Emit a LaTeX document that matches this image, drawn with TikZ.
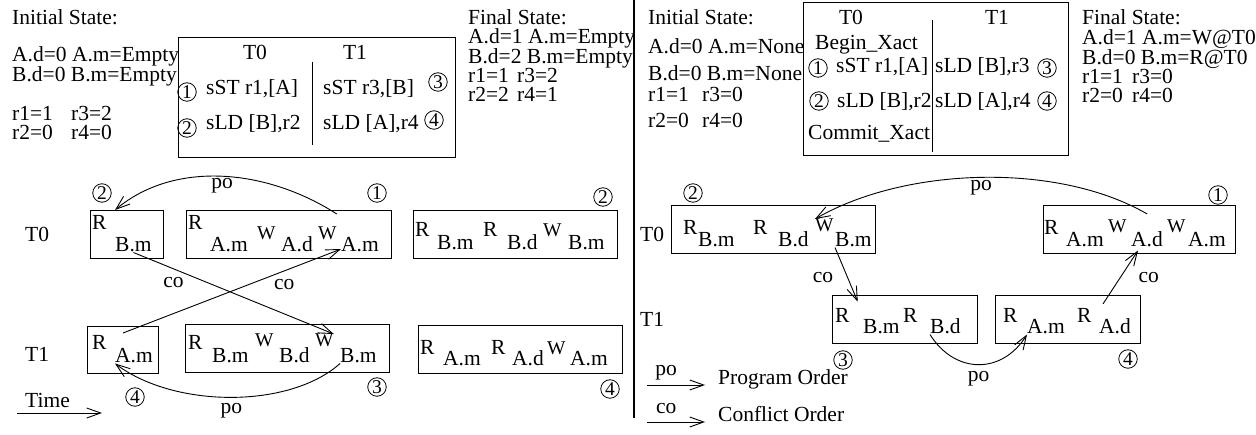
\documentclass[tikz,border=0pt]{standalone}
\usepackage{fontspec}
\setmainfont{Liberation Serif}
\usetikzlibrary{arrows.meta,positioning}

\begin{document}
\begin{tikzpicture}[x = 1pt, y = -1pt, font = \fontsize{21.5}{25}\selectfont]
  \useasboundingbox (0,0) rectangle (1256,435);
  \tikzset{TextStyle/.style  = {inner sep      = 0pt,
                                anchor         = base west}}
  \tikzset{SupStyle/.style   = {TextStyle,
                                font           = \fontsize{19.5}{22}\selectfont}}
  \tikzset{BoxStyle/.style   = {draw,
                                line width     = 1pt,
                                inner sep      = 0pt,
                                anchor         = north west}}
  \tikzset{NumStyle/.style   = {draw,
                                circle,
                                line width     = 0.8pt,
                                inner sep      = 0pt,
                                minimum size   = 18.5pt,
                                font           = \fontsize{19.5}{21}\selectfont}}
  \tikzset{EdgeStyle/.style  = {line width     = 0.9pt,
                                -{Straight Barb[length=14pt,width=10pt]}}}
  \tikzset{LabelStyle/.style = {inner sep      = 2pt}}

  % left half: states and code
  \node[TextStyle] (Init0)  at (12,25)  {Initial State:};
  \node[TextStyle] (InitA0) at (12,62)  {A.d=0 A.m=Empty};
  \node[TextStyle] (InitB0) at (12,82)  {B.d=0 B.m=Empty};
  \node[TextStyle] (InitR0) at (12,121) {\makebox[59pt][l]{r1=1}r3=2};
  \node[TextStyle] (InitS0) at (12,140) {\makebox[59pt][l]{r2=0}r4=0};

  \node[BoxStyle, minimum width = 277pt, minimum height = 120pt] (Code0) at (178,37) {};
  \draw[line width = 1pt] (312,62) -- (312,145);
  \node[TextStyle, anchor = base] (CodeT0) at (255,60)  {T0};
  \node[TextStyle, anchor = base] (CodeT1) at (355,60)  {T1};
  \node[NumStyle]  (NumA1) at (187,92)  {1};
  \node[TextStyle] (InsA1) at (206,95)  {sST r1,[A]};
  \node[NumStyle]  (NumA2) at (187,128) {2};
  \node[TextStyle] (InsA2) at (206,130) {sLD [B],r2};
  \node[TextStyle] (InsA3) at (323,95)  {sST r3,[B]};
  \node[NumStyle]  (NumA3) at (438,82)  {3};
  \node[TextStyle] (InsA4) at (323,130) {sLD [A],r4};
  \node[NumStyle]  (NumA4) at (434,120) {4};

  \node[TextStyle] (Fin0)  at (468,25)  {Final State:};
  \node[TextStyle] (FinA0) at (468,44)  {A.d=1 A.m=Empty};
  \node[TextStyle] (FinB0) at (468,64)  {B.d=2 B.m=Empty};
  \node[TextStyle] (FinR0) at (468,83)  {\makebox[49pt][l]{r1=1}r3=2};
  \node[TextStyle] (FinS0) at (468,102) {\makebox[49pt][l]{r2=2}r4=1};

  % left half: time line
  \node[TextStyle] (RowT0) at (25,242) {T0};
  \node[TextStyle] (RowT1) at (25,362) {T1};

  \node[BoxStyle, minimum width = 73pt, minimum height = 48pt] (A0) at (90,210) {};
  \node[TextStyle] (A0a) at (92,230)  {R};
  \node[TextStyle] (A0b) at (115,252) {B.m};
  \node[BoxStyle, minimum width = 205pt, minimum height = 48pt] (B0) at (186,210) {};
  \node[TextStyle] (B0a) at (188,230) {R};
  \node[TextStyle] (B0b) at (210,252) {A.m};
  \node[SupStyle]  (B0c) at (257,240) {W};
  \node[TextStyle] (B0d) at (281,252) {A.d};
  \node[SupStyle]  (B0e) at (318,240) {W};
  \node[TextStyle] (B0f) at (341,252) {A.m};
  \node[BoxStyle, minimum width = 204pt, minimum height = 48pt] (C0) at (413,210) {};
  \node[TextStyle] (C0a) at (415,237) {R};
  \node[TextStyle] (C0b) at (437,250) {B.m};
  \node[TextStyle] (C0c) at (483,237) {R};
  \node[TextStyle] (C0d) at (507,250) {B.d};
  \node[SupStyle]  (C0e) at (543,237) {W};
  \node[TextStyle] (C0f) at (568,250) {B.m};
  \node[NumStyle] (NumB2) at (102,193) {2};
  \node[NumStyle] (NumB1) at (377,193) {1};
  \node[NumStyle] (NumC2) at (603,197) {2};

  \node[BoxStyle, minimum width = 71pt, minimum height = 47pt] (A1) at (87,326) {};
  \node[TextStyle] (A1a) at (92,350)  {R};
  \node[TextStyle] (A1b) at (115,363) {A.m};
  \node[BoxStyle, minimum width = 204pt, minimum height = 48pt] (B1) at (185,324) {};
  \node[TextStyle] (B1a) at (188,350) {R};
  \node[TextStyle] (B1b) at (212,363) {B.m};
  \node[SupStyle]  (B1c) at (255,347) {W};
  \node[TextStyle] (B1d) at (279,363) {B.d};
  \node[SupStyle]  (B1e) at (315,347) {W};
  \node[TextStyle] (B1f) at (340,363) {B.m};
  \node[BoxStyle, minimum width = 204pt, minimum height = 48pt] (C1) at (418,325) {};
  \node[TextStyle] (C1a) at (420,355) {R};
  \node[TextStyle] (C1b) at (443,366) {A.m};
  \node[TextStyle] (C1c) at (491,355) {R};
  \node[TextStyle] (C1d) at (512,366) {A.d};
  \node[SupStyle]  (C1e) at (547,355) {W};
  \node[TextStyle] (C1f) at (570,366) {A.m};
  \node[NumStyle] (NumB4) at (135,397) {4};
  \node[NumStyle] (NumB3) at (377,387) {3};
  \node[NumStyle] (NumC4) at (610,389) {4};

  \draw[EdgeStyle] ([yshift=-4pt]B0e.north east |- B0.north) .. controls +(-70,-45) and +(60,-50) .. (A0b.west |- A0.north)
        node[LabelStyle, pos = 0.5, below] {po};
  \draw[EdgeStyle] (A0b.south) -- (B1e.north east)
        node[LabelStyle, pos = 0.2, below = 6pt] {co};
  \draw[EdgeStyle] ([yshift=-7pt]A1.north) -- ([yshift=-4pt]B0f.west)
        node[LabelStyle, pos = 0.74, below = 6pt] {co};
  \draw[EdgeStyle] (B1f.south west) .. controls +(-50,45) and +(60,45) .. (A1b.south west)
        node[LabelStyle, pos = 0.5, below = 4pt] {po};

  \node[TextStyle] (Time) at (25,408) {Time};
  \coordinate (TimeS) at (17,413);
  \coordinate (TimeE) at (102,413);
  \draw[EdgeStyle] (TimeS) -- (TimeE);

  % separator
  \coordinate (SepT) at (634,0);
  \coordinate (SepB) at (634,418);
  \draw[line width = 1.2pt] (SepT) -- (SepB);

  % right half: states and code
  \node[TextStyle] (Init1)  at (648,25)  {Initial State:};
  \node[TextStyle] (InitA1) at (648,54)  {A.d=0 A.m=None};
  \node[TextStyle] (InitB1) at (648,81)  {B.d=0 B.m=None};
  \node[TextStyle] (InitR1) at (648,102) {\makebox[54pt][l]{r1=1}r3=0};
  \node[TextStyle] (InitS1) at (648,128) {\makebox[54pt][l]{r2=0}r4=0};

  \node[BoxStyle, minimum width = 265pt, minimum height = 153pt] (Code1) at (803,2) {};
  \draw[line width = 1pt] (932,20) -- (932,152);
  \node[TextStyle, anchor = base] (XactT0) at (851,25)  {T0};
  \node[TextStyle, anchor = base] (XactT1) at (997,25)  {T1};
  \node[TextStyle] (Begin)  at (815,50)  {Begin\_Xact};
  \node[NumStyle]  (NumD1)  at (818,68)  {1};
  \node[TextStyle] (InsD1)  at (836,73)  {sST r1,[A]};
  \node[NumStyle]  (NumD2)  at (819,101) {2};
  \node[TextStyle] (InsD2)  at (837,108) {sLD [B],r2};
  \node[TextStyle] (Commit) at (808,140) {Commit\_Xact};
  \node[TextStyle] (InsD3)  at (935,73)  {sLD [B],r3};
  \node[NumStyle]  (NumD3)  at (1047,68) {3};
  \node[TextStyle] (InsD4)  at (935,108) {sLD [A],r4};
  \node[NumStyle]  (NumD4)  at (1047,101) {4};

  \node[TextStyle] (Fin1)  at (1082,25)  {Final State:};
  \node[TextStyle] (FinA1) at (1082,45)  {A.d=1 A.m=W@T0};
  \node[TextStyle] (FinB1) at (1082,65)  {B.d=0 B.m=R@T0};
  \node[TextStyle] (FinR1) at (1082,84)  {\makebox[50pt][l]{r1=1}r3=0};
  \node[TextStyle] (FinS1) at (1082,103) {\makebox[50pt][l]{r2=0}r4=0};

  % right half: transaction
  \node[TextStyle] (RowU0) at (640,242) {T0};
  \node[TextStyle] (RowU1) at (640,327) {T1};

  \node[BoxStyle, minimum width = 204pt, minimum height = 48pt] (E0) at (671,205) {};
  \node[TextStyle] (E0a) at (683,235) {R};
  \node[TextStyle] (E0b) at (698,247) {B.m};
  \node[TextStyle] (E0c) at (753,235) {R};
  \node[TextStyle] (E0d) at (778,247) {B.d};
  \node[SupStyle]  (E0e) at (815,232) {W};
  \node[TextStyle] (E0f) at (835,247) {B.m};
  \node[BoxStyle, minimum width = 192pt, minimum height = 48pt] (F0) at (1043,205) {};
  \node[TextStyle] (F0a) at (1044,235) {R};
  \node[TextStyle] (F0b) at (1066,247) {A.m};
  \node[SupStyle]  (F0c) at (1108,233) {W};
  \node[TextStyle] (F0d) at (1131,247) {A.d};
  \node[SupStyle]  (F0e) at (1167,233) {W};
  \node[TextStyle] (F0f) at (1188,247) {A.m};
  \node[NumStyle] (NumE2) at (693,193)  {2};
  \node[NumStyle] (NumF1) at (1218,195) {1};

  \node[BoxStyle, minimum width = 145pt, minimum height = 48pt] (E1) at (832,295) {};
  \node[TextStyle] (E1a) at (835,323) {R};
  \node[TextStyle] (E1b) at (863,334) {B.m};
  \node[TextStyle] (E1c) at (903,323) {R};
  \node[TextStyle] (E1d) at (930,334) {B.d};
  \node[BoxStyle, minimum width = 145pt, minimum height = 48pt] (F1) at (995,295) {};
  \node[TextStyle] (F1a) at (1003,323) {R};
  \node[TextStyle] (F1b) at (1027,334) {A.m};
  \node[TextStyle] (F1c) at (1077,323) {R};
  \node[TextStyle] (F1d) at (1099,334) {A.d};
  \node[NumStyle] (NumE3) at (843,360)  {3};
  \node[NumStyle] (NumF4) at (1128,359) {4};

  \draw[EdgeStyle] ([yshift=18pt]F0d.north) .. controls +(-90,-52) and +(90,-52) .. (E0e.north west)
        node[LabelStyle, pos = 0.5, below] {po};
  \draw[EdgeStyle] (E0f.south west) -- ([xshift=8pt,yshift=7pt]E1a.north east)
        node[LabelStyle, pos = 0.55, left = 12pt] {co};
  \draw[EdgeStyle] ([xshift=4pt,yshift=15pt]F1d.north west) -- ([xshift=7pt,yshift=-3pt]F0d.south west)
        node[LabelStyle, pos = 0.49, right = 16pt] {co};
  \draw[EdgeStyle] (E1d.south west) .. controls +(25,40) and +(-25,40) .. (F1b.south west)
        node[LabelStyle, pos = 0.5, below = 4pt] {po};

  % legend
  \coordinate (PoS) at (647,385);
  \coordinate (PoE) at (705,385);
  \draw[EdgeStyle] (PoS) -- (PoE) node[LabelStyle, pos = 0.33, above = 2pt] {po};
  \node[TextStyle, right = 13pt of PoE, anchor = base west] (Prog) {Program Order};
  \coordinate (CoS) at (647,422);
  \coordinate (CoE) at (705,422);
  \draw[EdgeStyle] (CoS) -- (CoE) node[LabelStyle, pos = 0.33, above = 6pt] {co};
  \node[TextStyle, right = 13pt of CoE, anchor = base west] (Conf) {Conflict Order};
\end{tikzpicture}
\end{document}
